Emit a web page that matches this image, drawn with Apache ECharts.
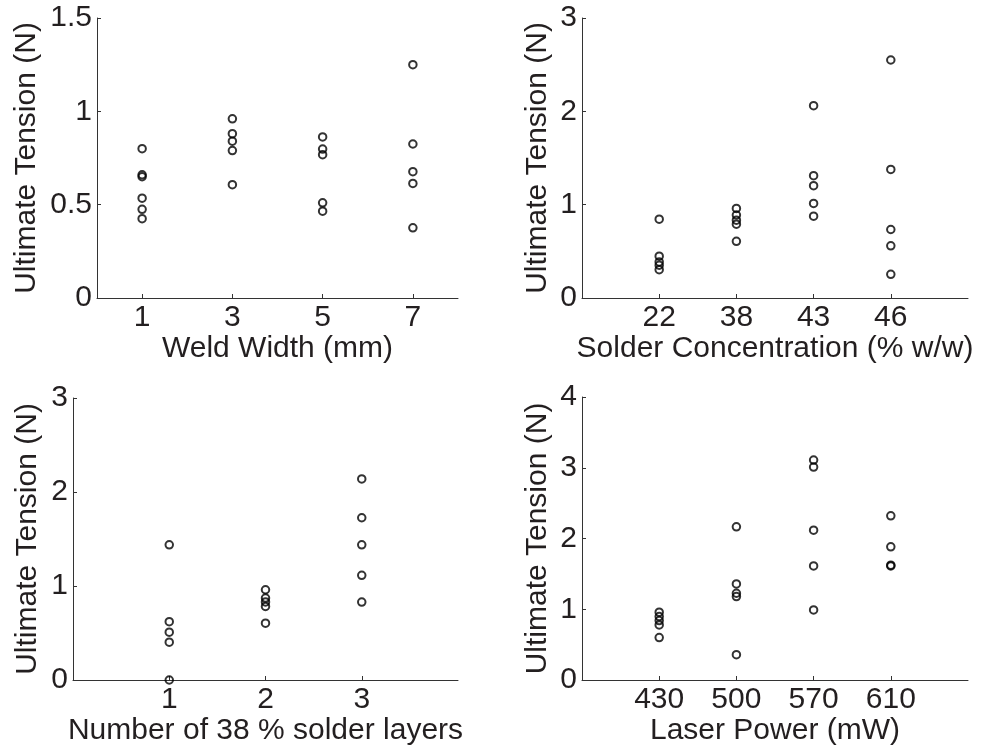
<!DOCTYPE html>
<html>
<head>
    <meta charset="utf-8">
    <title>Ultimate Tension</title>
    <script src="https://cdn.jsdelivr.net/npm/echarts@6/dist/echarts.min.js"></script>
    <style>
        html, body { margin: 0; padding: 0; background: #fff; }
    </style>
</head>
<body>
    <div id="chart" style="width:981px; height:751px"></div>

    <script>
        // weld width (mm)
        const widthLabels = ['1', '3', '5', '7'];
        const widthX = [1, 3, 5, 7];
        const widthVals = [
            [0.80, 0.66, 0.65, 0.535, 0.475, 0.425],
            [0.96, 0.88, 0.84, 0.79, 0.607],
            [0.863, 0.798, 0.768, 0.51, 0.465],
            [1.25, 0.825, 0.677, 0.614, 0.376]
        ];

        // solder concentration (% w/w)
        const concLabels = ['22', '38', '43', '46'];
        const concVals = [
            [0.845, 0.448, 0.387, 0.351, 0.304],
            [0.96, 0.888, 0.834, 0.791, 0.607],
            [2.06, 1.31, 1.203, 1.013, 0.877],
            [2.55, 1.378, 0.734, 0.559, 0.254]
        ];

        // number of 38 % layers
        const layerLabels = ['1', '2', '3'];
        const layerVals = [
            [1.438, 0.62, 0.509, 0.402, 0.0],
            [0.96, 0.872, 0.83, 0.783, 0.605],
            [2.139, 1.726, 1.438, 1.114, 0.829]
        ];

        // laser power (mW)
        const powerLabels = ['430', '500', '570', '610'];
        const powerVals = [
            [0.958, 0.896, 0.84, 0.778, 0.6],
            [2.165, 1.358, 1.226, 1.179, 0.358],
            [3.108, 3.009, 2.118, 1.613, 0.991],
            [2.321, 1.882, 1.623, 1.613]
        ];

        const FONT = 'Liberation Sans, Arial, Helvetica, sans-serif';
        const TXT = '#231f20';

        function points(xs, groups) {
            let out = [];
            groups.forEach((g, i) => g.forEach(v => out.push([xs[i], v])));
            return out;
        }

        function xAxis(idx, max, ticks, labels, name) {
            return {
                type: 'value', gridIndex: idx, min: 0, max: max,
                name: name, nameLocation: 'middle', nameGap: 31,
                nameTextStyle: { fontFamily: FONT, fontSize: 30, color: TXT },
                axisLine: { show: true, lineStyle: { color: '#333', width: 1 } },
                axisTick: { show: true, inside: true, length: 4, customValues: ticks,
                            lineStyle: { color: '#333' } },
                axisLabel: { customValues: ticks, margin: 5, fontFamily: FONT, fontSize: 30, color: TXT,
                             formatter: v => labels[ticks.indexOf(v)] },
                splitLine: { show: false }
            };
        }

        function yAxis(idx, max, interval, gap) {
            return {
                type: 'value', gridIndex: idx, min: 0, max: max, interval: interval,
                name: 'Ultimate Tension (N)', nameLocation: 'middle', nameGap: gap,
                nameTextStyle: { fontFamily: FONT, fontSize: 30, color: TXT },
                axisLine: { show: true, lineStyle: { color: '#333', width: 1 } },
                axisTick: { show: true, inside: true, length: 4, lineStyle: { color: '#333' } },
                axisLabel: { margin: 5, fontFamily: FONT, fontSize: 30, color: TXT },
                splitLine: { show: false }
            };
        }

        function scatter(idx, data) {
            return {
                type: 'scatter', xAxisIndex: idx, yAxisIndex: idx,
                symbol: 'circle', symbolSize: 7.5,
                itemStyle: { color: 'rgba(0,0,0,0)', borderColor: '#000', borderWidth: 2 },
                data: data, animation: false
            };
        }

        let chart = echarts.init(document.getElementById('chart'));

        chart.setOption({
            animation: false,
            grid: [
                { left: 97, top: 18, width: 361, height: 280 },
                { left: 582, top: 18, width: 386, height: 280 },
                { left: 73, top: 398, width: 385, height: 282 },
                { left: 582, top: 397, width: 386, height: 283 }
            ],
            xAxis: [
                xAxis(0, 8, widthX, widthLabels, 'Weld Width (mm)'),
                xAxis(1, 5, [1, 2, 3, 4], concLabels, 'Solder Concentration (% w/w)'),
                xAxis(2, 4, [1, 2, 3], layerLabels, 'Number of 38 % solder layers'),
                xAxis(3, 5, [1, 2, 3, 4], powerLabels, 'Laser Power (mW)')
            ],
            yAxis: [
                yAxis(0, 1.5, 0.5, 55),
                yAxis(1, 3, 1, 29),
                yAxis(2, 3, 1, 30),
                yAxis(3, 4, 1, 29)
            ],
            series: [
                scatter(0, points(widthX, widthVals)),
                scatter(1, points([1, 2, 3, 4], concVals)),
                scatter(2, points([1, 2, 3], layerVals)),
                scatter(3, points([1, 2, 3, 4], powerVals))
            ]
        });
    </script>
</body>
</html>
